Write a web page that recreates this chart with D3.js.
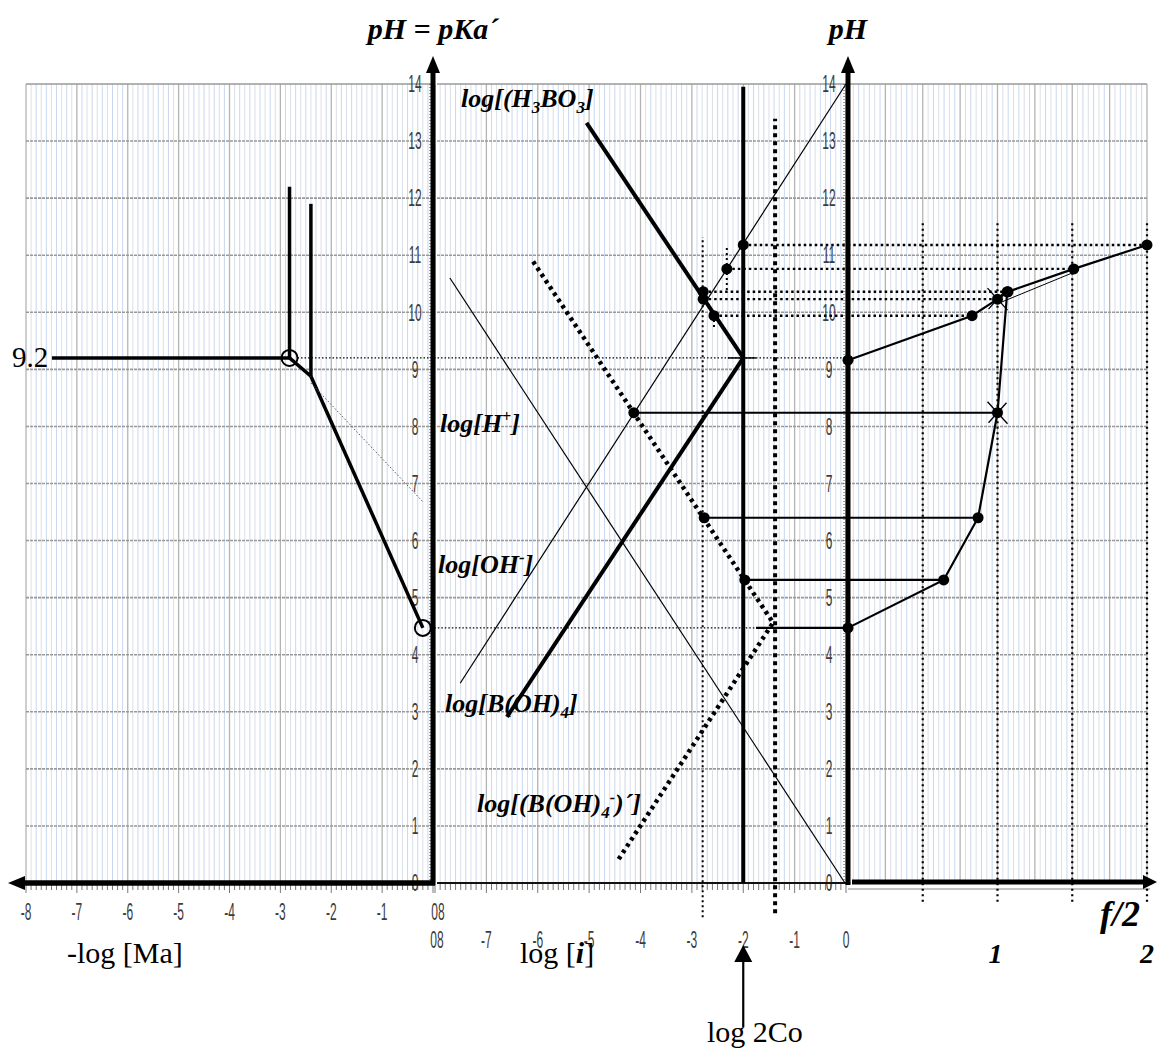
<!DOCTYPE html>
<html>
<head>
<meta charset="utf-8">
<script src="https://cdn.jsdelivr.net/npm/d3@7"></script>
<style>
  body { margin: 0; background: #fff; }
  svg { display: block; }
</style>
</head>
<body>
<svg id="chart" width="1157" height="1051"></svg>
<script>
// ---------- tick values and labels ----------
const pHTicks = [0, 1, 2, 3, 4, 5, 6, 7, 8, 9, 10, 11, 12, 13, 14];
const leftTickValues = [-8, -7, -6, -5, -4, -3, -2, -1, 0];
const leftTickLabels = ["-8", "-7", "-6", "-5", "-4", "-3", "-2", "-1", "08"];
const midTickValues = [-8, -7, -6, -5, -4, -3, -2, -1, 0];
const midTickLabels = ["08", "-7", "-6", "-5", "-4", "-3", "-2", "-1", "0"];
const fracTickValues = [1, 2];
const fracTickLabels = ["1", "2"];
const fracGuides = [0.5, 1, 1.5, 2];

// ---------- left panel: pKa´ against -log[Ma] ----------
const pKa = 9.2;
const leftCircles = [[-2.82, 9.2], [-0.2, 4.47]];
const leftSegments = [
  [[-7.49, 9.2], [-2.82, 9.2]],
  [[-2.82, 9.2], [-2.82, 12.2]],
  [[-2.4, 8.88], [-2.4, 11.9]],
  [[-2.82, 9.2], [-2.4, 8.88]],
  [[-2.4, 8.88], [-0.2, 4.47]]
];
const leftDotted = [[-2.4, 8.76], [-0.2, 6.68]];

// ---------- middle panel: log[i] against pH ----------
const logH3BO3 = [[-5.05, 13.32], [-2, 9.2]];
const logBOH4 = [[-2, 9.2], [-6.6, 2.91]];
const logOH = [[-7.51, 3.5], [0, 14]];
const logH = [[-7.71, 10.6], [-0.02, 0]];
const logBOH4Cond = [[-6.09, 10.89], [-1.42, 4.56], [-4.46, 0.37]];
const log2Co = -2;
const logCoLine = { x: -1.38, from: -0.53, to: 13.39 };
const midDottedVerticals = [
  { x: -2.79, from: -0.6, to: 11.32 },
  { x: -2.32, from: 10.39, to: 11.13 },
  { x: -2.57, from: 9.74, to: 9.94 }
];
const midPointsX = [-2, -2.32, -2.78, -2.78, -2.57, -4.13, -2.76, -1.97];
const midPointsPH = [11.18, 10.76, 10.36, 10.23, 9.94, 8.24, 6.4, 5.31];

// ---------- right panel: titration curves pH against f/2 ----------
const fUpper = [0, 0.83, 1.0, 1.07, 1.51, 2.0];
const pHUpper = [9.16, 9.94, 10.23, 10.36, 10.76, 11.18];
const fLower = [0, 0.64, 0.87, 1.0, 1.065];
const pHLower = [4.47, 5.31, 6.4, 8.24, 10.36];
const crossMarks = [[1.0, 10.23], [1.0, 8.24]];

// projections from the log diagram onto the titration curves
const dottedLinks = [
  { from: -2, to: 2, pH: 11.18 },
  { from: -2.32, to: 1.51, pH: 10.76 },
  { from: -2.78, to: 1.07, pH: 10.36 },
  { from: -2.78, to: 1.0, pH: 10.23 },
  { from: -2.57, to: 0.83, pH: 9.94 }
];
const solidLinks = [
  { from: -4.13, to: 1.0, pH: 8.24 },
  { from: -2.76, to: 0.87, pH: 6.4 },
  { from: -1.97, to: 0.64, pH: 5.31 },
  { from: -1.75, to: 0, pH: 4.47 }
];

// ---------- scales ----------
const y = d3.scaleLinear().domain([0, 14]).range([883, 84]);
const xL = d3.scaleLinear().domain([-8, 0]).range([26, 433]);
const xM = d3.scaleLinear().domain([-8, 0]).range([435, 846]);
const xR = d3.scaleLinear().domain([0, 2]).range([848, 1147]);

const svg = d3.select("#chart");
const serif = "'Liberation Serif', 'Times New Roman', serif";

// ---------- grids ----------
function grid(g, xs, d0, d1, major, minorCount, px0, px1) {
  const nMaj = Math.round((d1 - d0) / major);
  const minor = [];
  for (let i = 0; i < nMaj; i++) {
    for (let k = 1; k < minorCount; k++) minor.push(d0 + i * major + k * major / minorCount);
  }
  g.selectAll(null).data(minor).join("line")
    .attr("x1", d => xs(d)).attr("x2", d => xs(d))
    .attr("y1", y(14)).attr("y2", y(0))
    .attr("stroke", (d, i) => (i % 2 ? "#c3d3ee" : "#d6dbe4"))
    .attr("stroke-width", 0.9);
  const majors = d3.range(nMaj + 1).map(i => d0 + i * major);
  g.selectAll(null).data(majors).join("line")
    .attr("x1", d => xs(d)).attr("x2", d => xs(d))
    .attr("y1", y(14)).attr("y2", y(0))
    .attr("stroke", "#b4b4b4").attr("stroke-width", 1.3);
  g.selectAll(null).data(pHTicks).join("line")
    .attr("x1", px0).attr("x2", px1)
    .attr("y1", d => y(d)).attr("y2", d => y(d))
    .attr("stroke", "#999").attr("stroke-width", 1.6)
    .attr("stroke-dasharray", d => (d === 14 ? null : "3,1"));
}
grid(svg.append("g"), xL, -8, 0, 1, 10, xL(-8), xL(0));
grid(svg.append("g"), xM, -8, 0, 1, 10, xM(-8) + 2, xM(0));
grid(svg.append("g"), xR, 0, 2, 0.25, 7, xR(0), xR(2));

// ---------- bottom tick rulers ----------
const tickG = svg.append("g").attr("stroke", "#555").attr("stroke-width", 0.8);
tickG.selectAll(null).data(d3.range(-80, 1).map(d => d / 10)).join("line")
  .attr("x1", d => xL(d)).attr("x2", d => xL(d))
  .attr("y1", 884).attr("y2", d => (Math.abs(d % 1) < 1e-9 ? 893 : 890));
tickG.selectAll(null).data(d3.range(-80, 1).map(d => d / 10)).join("line")
  .attr("x1", d => xM(d)).attr("x2", d => xM(d))
  .attr("y1", 884).attr("y2", d => (Math.abs(d % 1) < 1e-9 ? 893 : 890));

// ---------- tick labels (narrow gray figures) ----------
const tickFont = "'Liberation Sans', Arial, sans-serif";
function narrowText(g, x, yy, txt) {
  g.append("text")
    .attr("transform", `translate(${x},${yy}) scale(0.5,1)`)
    .attr("text-anchor", "middle").attr("dominant-baseline", "central")
    .attr("font-family", tickFont).attr("font-size", 24).attr("fill", "#3c3c3c")
    .text(txt);
}
const lab = svg.append("g");
pHTicks.forEach(v => { narrowText(lab, 415, y(v), String(v)); narrowText(lab, 829, y(v), String(v)); });
leftTickValues.forEach((v, i) => narrowText(lab, xL(v) + (v === 0 ? 5 : 0), 912, leftTickLabels[i]));
midTickValues.forEach((v, i) => narrowText(lab, xM(v) + (v === -8 ? 2 : 0), 940, midTickLabels[i]));

// ---------- middle panel thin x axis ----------
svg.append("line").attr("x1", xM(-8) + 2).attr("x2", xM(0)).attr("y1", 883).attr("y2", 883)
  .attr("stroke", "#111").attr("stroke-width", 2);
svg.append("line").attr("x1", xR(0)).attr("x2", xR(2) + 3).attr("y1", 889).attr("y2", 889)
  .attr("stroke", "#888").attr("stroke-width", 1.2);

// dotted rulers beside the pH axes
[xL(0) - 3, xR(0) - 4].forEach(px => {
  svg.append("line").attr("x1", px).attr("x2", px).attr("y1", y(14)).attr("y2", y(0))
    .attr("stroke", "#444").attr("stroke-width", 1).attr("stroke-dasharray", "1,2");
});

const line = (xs) => d3.line().x(d => xs(d[0])).y(d => y(d[1]));

// ---------- right panel guides ----------
svg.append("g").selectAll(null).data(fracGuides).join("line")
  .attr("x1", d => xR(d)).attr("x2", d => xR(d))
  .attr("y1", y(11.56)).attr("y2", y(-0.39))
  .attr("stroke", "#000").attr("stroke-width", 2.2).attr("stroke-dasharray", "2,3.5");

// ---------- middle panel verticals ----------
svg.append("line").attr("x1", xM(log2Co)).attr("x2", xM(log2Co))
  .attr("y1", y(0)).attr("y2", y(13.95))
  .attr("stroke", "#000").attr("stroke-width", 4);
svg.append("line").attr("x1", xM(logCoLine.x)).attr("x2", xM(logCoLine.x))
  .attr("y1", y(logCoLine.from)).attr("y2", y(logCoLine.to))
  .attr("stroke", "#000").attr("stroke-width", 4).attr("stroke-dasharray", "4,4");
svg.append("g").selectAll(null).data(midDottedVerticals).join("line")
  .attr("x1", d => xM(d.x)).attr("x2", d => xM(d.x))
  .attr("y1", d => y(d.from)).attr("y2", d => y(d.to))
  .attr("stroke", "#000").attr("stroke-width", 2).attr("stroke-dasharray", "2,3");

// ---------- thin horizontal dotted guides (pKa and start pH) ----------
[[leftCircles[0], pKa], [leftCircles[1], 4.47]].forEach(([c, p]) => {
  svg.append("line").attr("x1", xL(c[0]) + 8).attr("x2", xR(0))
    .attr("y1", y(p)).attr("y2", y(p))
    .attr("stroke", "#000").attr("stroke-width", 1.3).attr("stroke-dasharray", "1.5,2");
});

// ---------- projection links ----------
svg.append("g").selectAll(null).data(dottedLinks).join("line")
  .attr("x1", d => xM(d.from)).attr("x2", d => xR(d.to))
  .attr("y1", d => y(d.pH)).attr("y2", d => y(d.pH))
  .attr("stroke", "#000").attr("stroke-width", 2.4).attr("stroke-dasharray", "2.5,3");
svg.append("g").selectAll(null).data(solidLinks).join("line")
  .attr("x1", d => xM(d.from)).attr("x2", d => xR(d.to))
  .attr("y1", d => y(d.pH)).attr("y2", d => y(d.pH))
  .attr("stroke", "#000").attr("stroke-width", 2.2);
svg.append("line").attr("x1", xM(-2.3)).attr("x2", xM(-1.75))
  .attr("y1", y(pKa)).attr("y2", y(pKa)).attr("stroke", "#000").attr("stroke-width", 1.5);

// ---------- log lines ----------
svg.append("path").datum(logOH).attr("d", line(xM)).attr("fill", "none").attr("stroke", "#000").attr("stroke-width", 1.2);
svg.append("path").datum(logH).attr("d", line(xM)).attr("fill", "none").attr("stroke", "#000").attr("stroke-width", 1.2);
svg.append("path").datum(logH3BO3).attr("d", line(xM)).attr("fill", "none").attr("stroke", "#000").attr("stroke-width", 4);
svg.append("path").datum(logBOH4).attr("d", line(xM)).attr("fill", "none").attr("stroke", "#000").attr("stroke-width", 4);
svg.append("path").datum(logBOH4Cond).attr("d", line(xM)).attr("fill", "none")
  .attr("stroke", "#000").attr("stroke-width", 4.5).attr("stroke-dasharray", "3.5,4");

// ---------- middle dots ----------
svg.append("g").selectAll(null).data(midPointsX).join("circle")
  .attr("cx", d => xM(d)).attr("cy", (d, i) => y(midPointsPH[i])).attr("r", 5.5).attr("fill", "#000");

// ---------- titration curves ----------
const upper = fUpper.map((f, i) => [f, pHUpper[i]]);
const lower = fLower.map((f, i) => [f, pHLower[i]]);
svg.append("path").datum(upper).attr("d", line(xR)).attr("fill", "none").attr("stroke", "#000").attr("stroke-width", 2.2);
svg.append("path").datum(lower).attr("d", line(xR)).attr("fill", "none").attr("stroke", "#000").attr("stroke-width", 2.2);
svg.append("path").datum([[fUpper[2], pHUpper[2] - 0.08], [fUpper[4], pHUpper[4] - 0.06]])
  .attr("d", line(xR)).attr("fill", "none").attr("stroke", "#000").attr("stroke-width", 1);
svg.append("g").selectAll(null).data(upper.concat(lower)).join("circle")
  .attr("cx", d => xR(d[0])).attr("cy", d => y(d[1])).attr("r", 5.5).attr("fill", "#000");
crossMarks.forEach(c => {
  const cx = xR(c[0]), cy = y(c[1]);
  svg.append("path").attr("d", `M${cx - 10},${cy - 11}L${cx + 10},${cy + 11}M${cx + 9},${cy - 10}L${cx - 9},${cy + 10}`)
    .attr("stroke", "#000").attr("stroke-width", 1.3);
});

// ---------- left panel ----------
leftSegments.forEach(s => {
  svg.append("path").datum(s).attr("d", line(xL)).attr("fill", "none").attr("stroke", "#000").attr("stroke-width", 3.5);
});
svg.append("path").datum(leftDotted).attr("d", line(xL)).attr("fill", "none")
  .attr("stroke", "#555").attr("stroke-width", 1).attr("stroke-dasharray", "1.5,2");
svg.append("g").selectAll(null).data(leftCircles).join("circle")
  .attr("cx", d => xL(d[0])).attr("cy", d => y(d[1])).attr("r", 8)
  .attr("fill", "none").attr("stroke", "#000").attr("stroke-width", 2);

// ---------- thick axes with arrows ----------
function vAxis(px) {
  svg.append("line").attr("x1", px).attr("x2", px).attr("y1", 885).attr("y2", 70)
    .attr("stroke", "#000").attr("stroke-width", 5);
  svg.append("path").attr("d", `M${px},56L${px - 7},73L${px + 7},73Z`).attr("fill", "#000");
}
vAxis(xL(0));
vAxis(xR(0));
svg.append("line").attr("x1", xL(0) + 2).attr("x2", 22).attr("y1", 883).attr("y2", 883)
  .attr("stroke", "#000").attr("stroke-width", 5.5);
svg.append("path").attr("d", "M8,883L25,876L25,890Z").attr("fill", "#000");
svg.append("line").attr("x1", xR(0) + 4).attr("x2", 1146).attr("y1", 882).attr("y2", 882)
  .attr("stroke", "#000").attr("stroke-width", 5);
svg.append("path").attr("d", "M1157,882L1143,875L1143,889Z").attr("fill", "#000");

// ---------- texts ----------
const T = svg.append("g").attr("font-family", serif).attr("fill", "#000");
T.append("text").attr("x", xL(0)).attr("y", 39).attr("text-anchor", "middle")
  .attr("font-size", 30).attr("font-weight", "bold").attr("font-style", "italic").text("pH = pKa´");
T.append("text").attr("x", xR(0)).attr("y", 39).attr("text-anchor", "middle")
  .attr("font-size", 30).attr("font-weight", "bold").attr("font-style", "italic").text("pH");
T.append("text").attr("x", 12).attr("y", 367).attr("font-size", 29).text("9.2");
T.append("text").attr("x", 67).attr("y", 963).attr("font-size", 30).text("-log [Ma]");
const li = T.append("text").attr("x", 520).attr("y", 963).attr("font-size", 30);
li.append("tspan").text("log [");
li.append("tspan").attr("font-weight", "bold").attr("font-style", "italic").text("i");
li.append("tspan").text("]");
T.append("text").attr("x", 707).attr("y", 1042).attr("font-size", 30).text("log 2Co");
svg.append("line").attr("x1", xM(log2Co)).attr("x2", xM(log2Co)).attr("y1", 1027).attr("y2", 958)
  .attr("stroke", "#000").attr("stroke-width", 2.2);
svg.append("path").attr("d", `M${xM(log2Co)},945L${xM(log2Co) - 9},962L${xM(log2Co) + 9},962Z`).attr("fill", "#000");

const bi = T.append("g").attr("font-weight", "bold").attr("font-style", "italic");
bi.append("text").attr("x", 1100).attr("y", 926).attr("font-size", 36).text("f/2");
fracTickValues.forEach((v, i) => {
  bi.append("text").attr("x", xR(v) + (v === 2 ? 0 : -2)).attr("y", 963).attr("text-anchor", "middle")
    .attr("font-size", 28).text(fracTickLabels[i]);
});

// species labels with sub/superscripts
function species(x, yy, parts) {
  const t = bi.append("text").attr("x", x).attr("y", yy).attr("font-size", 26);
  parts.forEach(p => {
    const s = t.append("tspan").text(p.t);
    if (p.dy) s.attr("dy", p.dy);
    if (p.fs) s.attr("font-size", p.fs);
  });
}
species(461, 107, [{ t: "log[(H" }, { t: "3", dy: 6, fs: 17 }, { t: "BO", dy: -6 }, { t: "3", dy: 6, fs: 17 }, { t: "]", dy: -6 }]);
species(440, 432, [{ t: "log[H" }, { t: "+", dy: -10, fs: 16 }, { t: "]", dy: 10 }]);
species(438, 573, [{ t: "log[OH" }, { t: "-", dy: -10, fs: 17 }, { t: "]", dy: 10 }]);
species(445, 712, [{ t: "log[B(OH)" }, { t: "4", dy: 6, fs: 17 }, { t: "]", dy: -6 }]);
species(477, 812, [{ t: "log[(B(OH)" }, { t: "4", dy: 6, fs: 17 }, { t: "-", dy: -15, fs: 16 }, { t: ")´]", dy: 9 }]);
</script>
</body>
</html>
